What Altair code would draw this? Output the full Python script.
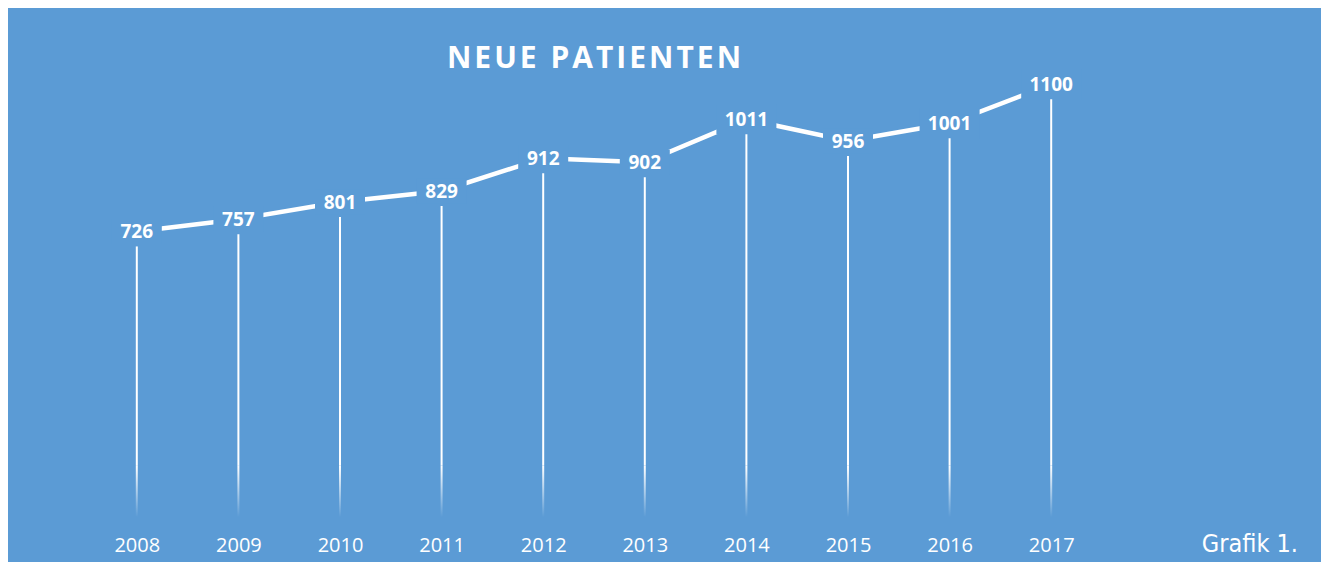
import altair as alt
import pandas as pd

years = ["2008", "2009", "2010", "2011", "2012", "2013", "2014", "2015", "2016", "2017"]
values = [726, 757, 801, 829, 912, 902, 1011, 956, 1001, 1100]
title_text = "NEUE PATIENTEN"
note_text = "Grafik 1."

BG = "#5B9BD5"
df = pd.DataFrame({"year": years, "value": values})

spaced_title = "\u200a".join(title_text)

xenc = alt.X("year:O", scale=alt.Scale(type="point", padding=0.5),
             axis=alt.Axis(title=None, labelAngle=0, domain=False, ticks=False, tickSize=0,
                           labelColor="white", labelFont="Open Sans", labelFontSize=20,
                           labelBaseline="middle", labelPadding=28, grid=False))
yscale = alt.Scale(domain=[0, 1200])

base = alt.Chart(df).transform_calculate(lo="0", hi="130")

line = base.mark_line(color="white", strokeWidth=4.5).encode(
    x=xenc, y=alt.Y("value:Q", scale=yscale, axis=None))

mask = base.mark_point(filled=True, shape="M-1,-0.5L1,-0.5L1,0.5L-1,0.5Z",
                       color=BG, opacity=1, strokeWidth=0).encode(
    x=xenc, y=alt.Y("value:Q", scale=yscale, axis=None),
    size=alt.condition("datum.value >= 1000", alt.value(3600), alt.value(2500)))

rule = base.mark_rule(color="white", strokeWidth=2, yOffset=15).encode(
    x=xenc, y=alt.Y("value:Q", scale=yscale, axis=None), y2="hi:Q")

grad = alt.LinearGradient(gradient="linear",
                          stops=[alt.GradientStop(color="white", offset=0),
                                 alt.GradientStop(color=BG, offset=1)],
                          x1=0, x2=0, y1=0, y2=1)
fade = base.mark_bar(size=2, color=grad).encode(
    x=xenc, y=alt.Y("hi:Q", scale=yscale, axis=None), y2="lo:Q")

labels = base.mark_text(color="white", font="Open Sans", fontWeight="bold", fontSize=19,
                        baseline="middle", align="center", dy=1).encode(
    x=xenc, y=alt.Y("value:Q", scale=yscale, axis=None), text="value:Q")

title = alt.Chart(pd.DataFrame({"t": [spaced_title]})).mark_text(
    color="white", font="Open Sans", fontWeight="bold", fontSize=30,
    baseline="middle", align="center").encode(
    x=alt.value(508), y=alt.value(14), text="t:N")

note = alt.Chart(pd.DataFrame({"t": [note_text]})).mark_text(
    color="white", font="DejaVu Sans Condensed, Liberation Sans Narrow, Roboto", fontSize=25,
    baseline="alphabetic", align="right").encode(
    x=alt.value(1212), y=alt.value(507), text="t:N")

chart = alt.layer(line, mask, rule, fade, labels, title, note).properties(
    width=1016, height=472,
    autosize=alt.AutoSizeParams(type="none"),
    padding={"left": 78, "top": 37, "right": 219, "bottom": 45},
    background=BG,
).configure_view(stroke=None)

chart.save("out.html", embed_options={"renderer": "svg", "actions": False})
